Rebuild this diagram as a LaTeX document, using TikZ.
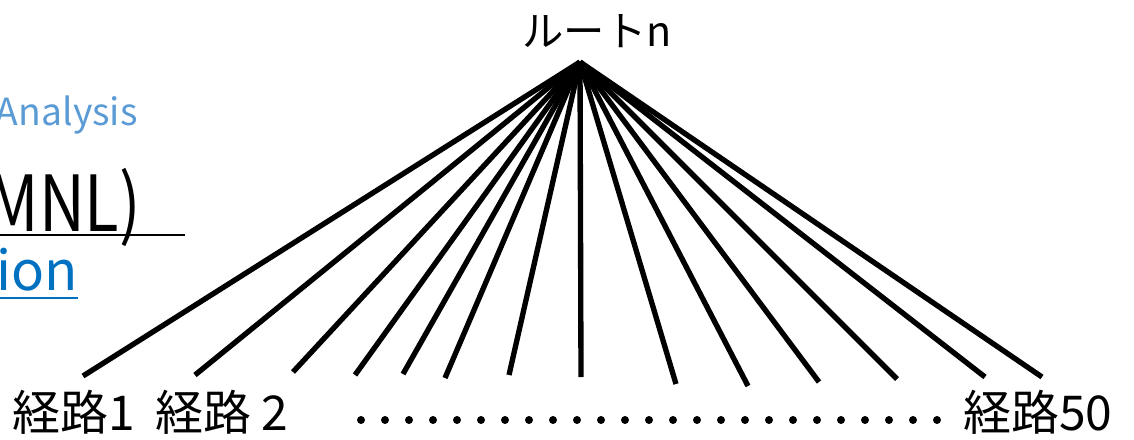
\documentclass[tikz,border=0pt]{standalone}
\usepackage{fontspec}
\setmainfont{Noto Sans CJK JP}
\usepackage{tikz}

\definecolor{lightblue}{HTML}{5B9BD5}
\definecolor{linkblue}{HTML}{0070C0}

\tikzset{
  branch/.style={line width=4pt, black},
  leaflabel/.style={inner sep=0pt, anchor=base west, font=\fontsize{36}{40}\selectfont}
}

\begin{document}
\begin{tikzpicture}[x=0.75pt, y=-0.75pt]

% Frame (pixel coordinates, origin top left)
\useasboundingbox (0,0) rectangle (1134,439);
\clip (0,0) rectangle (1134,439);

% Text cut off at the left edge
\node[inner sep=0pt, anchor=base east, text=lightblue, font=\fontsize{28}{32}\selectfont] (ana) at (138,125) {Analysis};
\node[inner sep=0pt, anchor=base east, font=\fontsize{58}{64}\selectfont] (mnl) at (141,231) {\scalebox{0.82}[1]{MNL)}};
\draw[line width=1.9pt] (0,235) -- (185,235);
\node[inner sep=0pt, anchor=base east, text=linkblue, font=\fontsize{41}{46}\selectfont] (spec) at (78,290) {tion};
\draw[line width=1.6pt, linkblue] (0,298) -- (78,298);

% Root label and apex
\node[inner sep=0pt, anchor=base, font=\fontsize{31}{34}\selectfont] (root) at (597,46) {ルートn};
\coordinate (apex) at (580,62);

% Branch ends
\foreach \i/\x/\y in {1/83/376, 2/195/375, 3/293/372, 4/355/375, 5/403/374,
                      6/445/378, 7/509/375, 8/581/377, 9/676/384, 10/748/386,
                      11/819/382, 12/897/379, 13/985/377, 14/1042/377}
{
  \coordinate (e\i) at (\x,\y);
  \draw[branch] (apex) -- (e\i);
}

% Leaf labels
\node[leaflabel] (r1) at (12,430) {経路1};
\node[leaflabel] (r2) at (155,430) {経路 2};
\node[leaflabel] (r50) at (963,430) {経路50};

% Dots between the labels
\foreach \i in {0,...,24}
  \fill (361+24*\i,420) circle (4);

\end{tikzpicture}
\end{document}
